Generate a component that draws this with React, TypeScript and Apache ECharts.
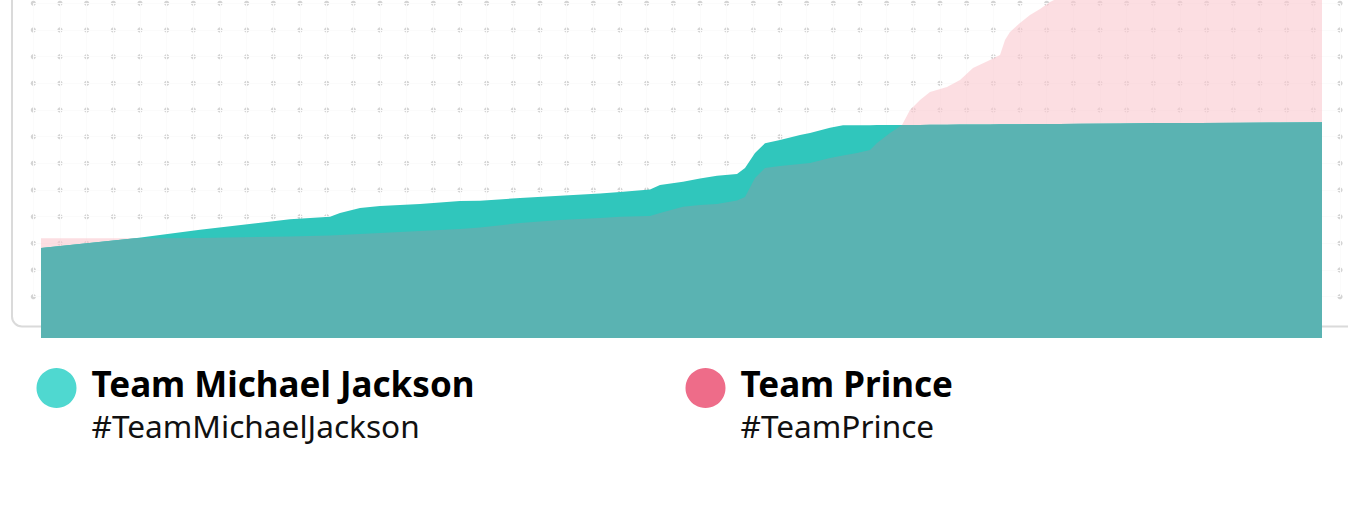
import React, { useEffect, useRef } from "react";
import * as echarts from "echarts";

// minutes since start
const minutes = [0, 94, 159, 249, 289, 299, 319, 339, 379, 419, 439, 479, 519, 559, 579, 609, 619, 642, 659, 676, 696, 704, 714, 724, 739, 759, 769, 789, 802, 816, 829, 836, 849, 861, 869, 879, 889, 906, 919, 932, 949, 959, 964, 969, 979, 989, 999, 1009, 1019, 1039, 1079, 1119, 1159, 1199, 1239, 1281];

const michaelJackson = [90, 99.7, 108.3, 118.7, 121.3, 125, 130, 132, 134, 137, 137.3, 140, 142.3, 144.5, 146, 148.5, 153, 156.3, 159.5, 162.3, 164, 170, 185, 194.7, 198, 203, 205, 210.3, 212.7, 212.8, 212.8, 212.9, 212.9, 213, 213, 213.1, 213.2, 213.3, 213.4, 213.5, 213.6, 213.7, 213.7, 213.7, 213.8, 213.9, 214, 214, 214.1, 214.3, 214.6, 214.9, 215.1, 215.3, 215.5, 215.7];

const prince = [99.7, 99.7, 100, 101.5, 102.5, 103, 104, 105, 107, 109, 110.5, 115, 118, 120, 121.3, 122, 125, 131.3, 133, 134, 137.5, 141, 160, 170, 172, 174, 175, 180, 182.5, 185, 188, 195, 205, 213, 228, 238, 246, 251, 258, 270, 278, 283, 298, 306, 315, 323, 329, 336, 341, 350, 365, 380, 395, 405, 415, 425];

const teams = [
  { name: "Team Michael Jackson", tag: "#TeamMichaelJackson", color: "#4fd8d0" },
  { name: "Team Prince", tag: "#TeamPrince", color: "#ee6c89" },
];

const Y_MAX = 338;

export default function App() {
  const ref = useRef<HTMLDivElement>(null);
  useEffect(() => {
    if (!ref.current) return;
    const chart = echarts.init(ref.current, undefined, { renderer: "svg" });
    const pair = (ys: number[]) => minutes.map((m, i) => [m, ys[i]]);
    const overlap = minutes.map((m, i) => [m, Math.min(michaelJackson[i], prince[i])]);

    // decorative dot-grid background
    const STEP = 80 / 3;
    const dots: any[] = [];
    for (let c = 0; c < 50; c++) {
      for (let r = 0; r < 12; r++) {
        dots.push({
          type: "circle",
          shape: { cx: 33.33 + c * STEP, cy: 3.33 + r * STEP, r: 2.6 },
          style: { fill: "#d4d4d4" },
        });
      }
    }

    const legendX = [36, 685];
    const graphics: any[] = [
      { type: "group", z: 0, silent: true, children: dots },
      {
        type: "rect",
        z: 1,
        shape: { x: 12, y: -60, width: 1400, height: 386.5, r: 10 },
        style: { fill: "none", stroke: "#dadada", lineWidth: 2 },
      },
    ];
    teams.forEach((t, i) => {
      const x0 = legendX[i];
      graphics.push({
        type: "circle",
        z: 5,
        shape: { cx: x0 + 20.5, cy: 388, r: 20 },
        style: { fill: t.color },
      });
      graphics.push({
        type: "text",
        z: 5,
        x: x0 + 55.5,
        y: 383,
        style: {
          text: t.name,
          fill: "#000",
          font: "bold 35px 'Noto Sans'",
          lineHeight: 35,
          verticalAlign: "middle",
        },
      });
      graphics.push({
        type: "text",
        z: 5,
        x: x0 + 55.5,
        y: 425,
        style: {
          text: t.tag,
          fill: "#111",
          font: "31.6px 'Noto Sans'",
          lineHeight: 32,
          verticalAlign: "middle",
        },
      });
    });
    chart.setOption({
      animation: false,
      grid: [
        { left: 41, right: 26, top: 0, bottom: 178, containLabel: false },
        { left: 33.33, top: 3.33, width: 1306.67, height: 293.33, containLabel: false },
      ],
      xAxis: [
        { type: "value", gridIndex: 0, min: 0, max: 1281, show: false },
        {
          type: "value",
          gridIndex: 1,
          min: 0,
          max: 49,
          interval: 1,
          axisLine: { show: false },
          axisTick: { show: false },
          axisLabel: { show: false },
          splitLine: { show: true, lineStyle: { color: "#fbfbfb", width: 1 } },
        },
      ],
      yAxis: [
        { type: "value", gridIndex: 0, min: 0, max: Y_MAX, show: false },
        {
          type: "value",
          gridIndex: 1,
          min: 0,
          max: 11,
          interval: 1,
          axisLine: { show: false },
          axisTick: { show: false },
          axisLabel: { show: false },
          splitLine: { show: true, lineStyle: { color: "#fbfbfb", width: 1 } },
        },
      ],
      graphic: graphics,
      series: [
        {
          name: "Team Prince",
          type: "line",
          xAxisIndex: 0,
          yAxisIndex: 0,
          data: pair(prince),
          showSymbol: false,
          lineStyle: { width: 0 },
          areaStyle: { color: "rgba(250,200,207,0.6)", opacity: 1 },
          z: 2,
        },
        {
          name: "Team Michael Jackson",
          type: "line",
          xAxisIndex: 0,
          yAxisIndex: 0,
          data: pair(michaelJackson),
          showSymbol: false,
          lineStyle: { width: 0 },
          areaStyle: { color: "#30c6bc", opacity: 1 },
          z: 3,
        },
        {
          name: "Overlap",
          type: "line",
          xAxisIndex: 0,
          yAxisIndex: 0,
          data: overlap,
          showSymbol: false,
          lineStyle: { width: 0 },
          areaStyle: { color: "#5ab3b2", opacity: 1 },
          z: 4,
        },
      ],
    });
    return () => chart.dispose();
  }, []);
  return (
    <div
      ref={ref}
      style={{ position: "fixed", left: 0, top: 0, width: 1348, height: 516, background: "#fff" }}
    />
  );
}
